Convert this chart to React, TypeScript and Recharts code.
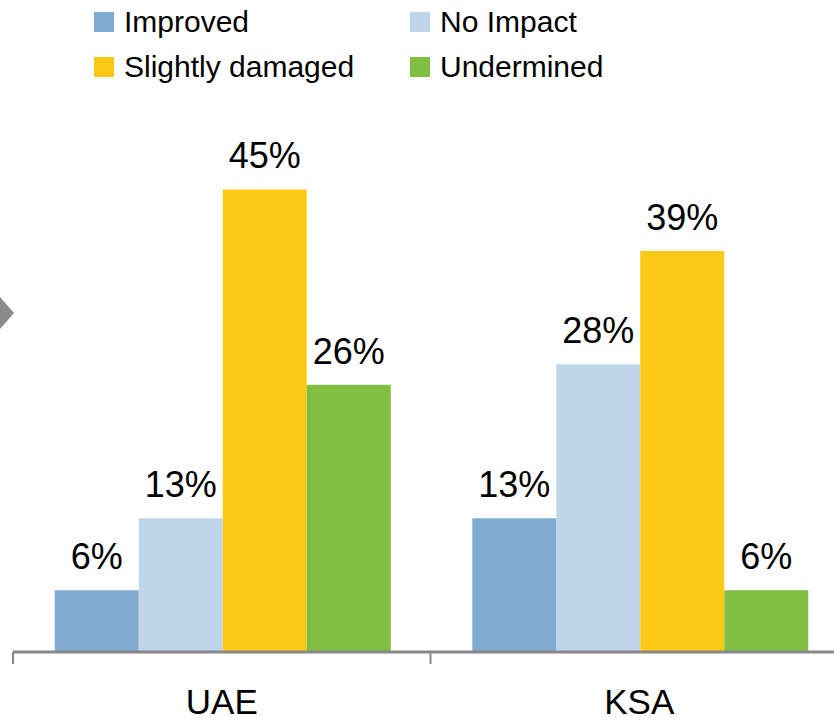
import * as React from "react";
import { Bar, BarChart, LabelList, XAxis, YAxis } from "recharts";

const categories = ["UAE", "KSA"];
const improved = [6, 13];
const noImpact = [13, 28];
const slightlyDamaged = [45, 39];
const undermined = [26, 6];

const SERIES = [
  { key: "improved", name: "Improved", color: "#80abd3" },
  { key: "noImpact", name: "No Impact", color: "#bfd6ea" },
  { key: "slightlyDamaged", name: "Slightly damaged", color: "#fcc917" },
  { key: "undermined", name: "Undermined", color: "#80bf42" },
];

const FONT = '"Liberation Sans", Arial, sans-serif';

const data = categories.map((name, i) => ({
  name,
  improved: improved[i],
  noImpact: noImpact[i],
  slightlyDamaged: slightlyDamaged[i],
  undermined: undermined[i],
}));

// tick line sits on the left edge of each category, label in the middle
function CategoryTick(props: any) {
  const { x, y, payload } = props;
  const half = payload.offset ?? 0;
  return (
    <g>
      <line x1={x - half} x2={x - half} y1={y - 12} y2={y} stroke="#888888" strokeWidth={2} />
      <text x={x} y={y + 50} textAnchor="middle" fill="#000" fontSize={35} fontFamily={FONT}>
        {payload.value}
      </text>
    </g>
  );
}

function LegendBlock() {
  const cols = [94, 410];
  const rows = [12, 57];
  return (
    <>
      {SERIES.map((s, i) => (
        <div
          key={s.key}
          style={{
            position: "absolute",
            left: cols[i % 2],
            top: rows[Math.floor(i / 2)],
            display: "flex",
            alignItems: "center",
            height: 20,
            fontFamily: FONT,
            fontSize: 30,
            color: "#000",
            whiteSpace: "nowrap",
          }}
        >
          <span style={{ width: 20, height: 20, background: s.color, marginRight: 10 }} />
          {s.name}
        </div>
      ))}
    </>
  );
}

export default function App() {
  return (
    <div
      style={{
        position: "fixed",
        left: 0,
        top: 0,
        width: 834,
        height: 725,
        overflow: "hidden",
        background: "#fff",
      }}
    >
      <BarChart
        width={850}
        height={725}
        data={data}
        margin={{ top: 138, right: 2, bottom: 0, left: 13 }}
        barCategoryGap="10%"
        barGap={0}
      >
        <XAxis
          dataKey="name"
          height={73}
          axisLine={{ stroke: "#888888", strokeWidth: 3 }}
          tickLine={false}
          tickSize={12}
          tickMargin={0}
          tick={<CategoryTick />}
          interval={0}
        />
        <YAxis hide domain={[0, 50]} />
        {SERIES.map((s) => (
          <Bar key={s.key} dataKey={s.key} name={s.name} fill={s.color} isAnimationActive={false}>
            <LabelList
              dataKey={s.key}
              position="top"
              offset={21}
              formatter={(v: any) => `${v}%`}
              fill="#000"
              fontSize={36}
              fontFamily={FONT}
            />
          </Bar>
        ))}
      </BarChart>
      <LegendBlock />
      <svg width={20} height={40} style={{ position: "absolute", left: 0, top: 295 }}>
        <polygon points="0,2 14,18 0,34" fill="#8c8c8c" />
      </svg>
    </div>
  );
}
